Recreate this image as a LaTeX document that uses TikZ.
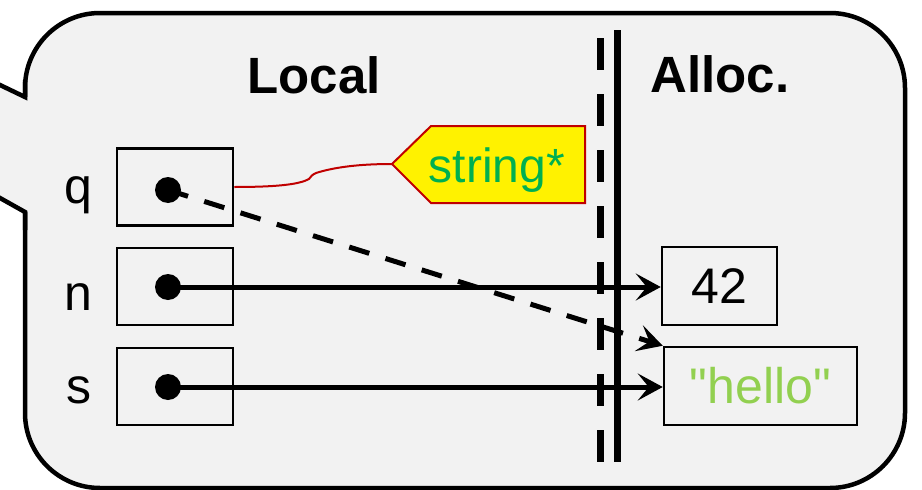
\documentclass[tikz,border=0pt]{standalone}
\usepackage{fontspec}
\setmainfont{Liberation Sans}
\newfontfamily\rawsans{Liberation Sans}[Ligatures=ResetAll]
\usetikzlibrary{arrows.meta}
\definecolor{panel}{HTML}{F2F2F2}
\definecolor{tagred}{HTML}{C00000}
\definecolor{taggreen}{HTML}{00B050}
\definecolor{strgreen}{HTML}{92D050}
\begin{document}
\begin{tikzpicture}[x=1pt,y=-1pt,
  txt/.style={font=\fontsize{50}{60}\selectfont},
  head/.style={font=\fontsize{51}{60}\selectfont\bfseries},
  cell/.style={draw, line width=2.5pt, inner sep=0pt, minimum width=116pt, minimum height=77pt},
  dot/.style={circle, fill, inner sep=0pt, minimum size=26pt},
  ptr/.style={line width=5pt, -{Stealth[length=25pt,width=27pt,inset=11pt]}},
  frame/.style={line width=4.5pt},
  divider/.style={line width=7pt},
]
\useasboundingbox (0,0) rectangle (922,490);
\clip (0,0) rectangle (922,490);
\fill[white] (0,0) rectangle (922,490);

% callout body with its pointer to the left
\draw[frame, fill=panel, rounded corners=75pt] (25,13) rectangle (905,488);
\fill[panel] (-20,75.4) -- (25,97) -- (30,97) -- (30,212) -- (25,212) -- (-20,186.8) -- cycle;
\draw[frame] (-20,75.4) -- (25,97) -- (25,80);
\draw[frame] (25,230) -- (25,212) -- (-20,186.8);

% stack / heap divider
\draw[divider, dash pattern=on 32pt off 24pt] (600,38) -- (600,462);
\draw[divider] (617,30) -- (617,462);

% headings
\node[head, anchor=base] (local) at (314,93) {Local};
\node[head, anchor=base] (alloc) at (720,92) {Alloc.};

% local variables
\node[cell] (qbox) at (175,187) {};
\node[cell] (nbox) at (175,286.5) {};
\node[cell] (sbox) at (175,386.5) {};
\node[txt, anchor=base] (qlab) at (78.5,203) {q};
\node[txt, anchor=base] (nlab) at (78.5,310) {n};
\node[txt, anchor=base] (slab) at (78.5,403) {s};

% allocated objects
\node[cell, txt, minimum width=115pt, minimum height=78pt] (v42) at (719.5,286) {42};
\node[cell, txt, text=strgreen, minimum width=193pt, minimum height=78pt] (vhello) at (760.5,386) {\rawsans "hello"};

% pointers
\node[dot] (qd) at (168,190) {};
\node[dot] (nd) at (168,287) {};
\node[dot] (sd) at (168,387) {};
\draw[ptr] (nd.center) -- (nd.center -| v42.west);
\draw[ptr] (sd.center) -- (sd.center -| vhello.west);
\draw[ptr, dash pattern=on 21pt off 17pt] (qd.center) -- (vhello.north west);

% type tag
\coordinate (tagtip) at (392,164);
\filldraw[draw=tagred, fill=yellow, line width=2pt] (tagtip) -- (431,126) -- (585,126) -- (585,203) -- (431,203) -- cycle;
\node[font=\fontsize{48}{58}\selectfont, text=taggreen, anchor=base] (tagtext) at (497,182) {string*};
\draw[tagred, line width=2pt] (qbox.east) .. controls (280,187) and (300,184) .. (309,179)
  .. controls (311,176) and (312,175) .. (316,173)
  .. controls (335,167) and (360,164) .. (tagtip);
\end{tikzpicture}
\end{document}
